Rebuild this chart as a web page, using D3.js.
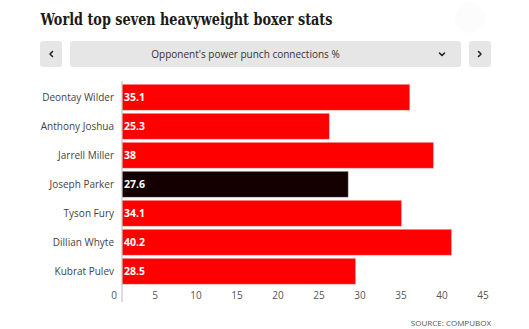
<!DOCTYPE html>
<html>
<head>
<meta charset="utf-8">
<script src="https://cdn.jsdelivr.net/npm/d3@7"></script>
<style>
  html, body { margin: 0; padding: 0; background: #fff; }
  svg { display: block; }
</style>
</head>
<body>
<svg id="chart" width="529" height="329"></svg>
<script>
// Boxer stats: opponent's power punch connections (%)
const boxers = ["Deontay Wilder", "Anthony Joshua", "Jarrell Miller", "Joseph Parker", "Tyson Fury", "Dillian Whyte", "Kubrat Pulev"];
const connections = [35.1, 25.3, 38, 27.6, 34.1, 40.2, 28.5];
const highlighted = ["Joseph Parker"];
const xTicks = [0, 5, 10, 15, 20, 25, 30, 35, 40, 45];

const title = "World top seven heavyweight boxer stats";
const metricLabel = "Opponent's power punch connections %";
const sourceNote = "SOURCE: COMPUBOX";

const rows = boxers.map((name, i) => ({ name, value: connections[i] }));

const svg = d3.select("#chart");

// Header
svg.append("circle").attr("cx", 470).attr("cy", 18).attr("r", 15).attr("fill", "#fcfcfc");

svg.append("text")
  .attr("x", 40.5).attr("y", 25)
  .attr("font-family", "'DejaVu Serif', serif")
  .attr("font-weight", "bold")
  .attr("font-size", 17)
  .attr("textLength", 292)
  .attr("lengthAdjust", "spacingAndGlyphs")
  .attr("fill", "#1a1a1a")
  .text(title);

// Selector controls
const ctrl = svg.append("g");
const btnFill = "#e6e6e6";
ctrl.append("rect").attr("x", 40).attr("y", 41).attr("width", 22).attr("height", 26).attr("rx", 3).attr("fill", btnFill);
ctrl.append("rect").attr("x", 70).attr("y", 41).attr("width", 391).attr("height", 26).attr("rx", 3).attr("fill", btnFill);
ctrl.append("rect").attr("x", 469).attr("y", 41).attr("width", 22).attr("height", 26).attr("rx", 3).attr("fill", btnFill);

const chevron = (pts) => ctrl.append("path")
  .attr("d", d3.line()(pts))
  .attr("fill", "none").attr("stroke", "#222").attr("stroke-width", 1.6)
  .attr("stroke-linecap", "round").attr("stroke-linejoin", "round");
chevron([[52.5, 51.5], [50, 54], [52.5, 56.5]]);
chevron([[478.5, 51.5], [481, 54], [478.5, 56.5]]);
chevron([[439.5, 53], [442, 55.5], [444.5, 53]]);

ctrl.append("text")
  .attr("x", 245.5).attr("y", 57.5)
  .attr("text-anchor", "middle")
  .attr("font-family", "'Open Sans', sans-serif")
  .attr("font-size", 10)
  .attr("fill", "#333")
  .text(metricLabel);

// Scales
const x = d3.scaleLinear().domain([0, 45]).range([122, 491]);
const y = d3.scaleBand().domain(boxers).range([82.8, 285.8]).paddingInner(0.1).paddingOuter(0.05);

// Bars
svg.append("g").selectAll("rect")
  .data(rows)
  .join("rect")
  .attr("x", x(0))
  .attr("y", d => y(d.name))
  .attr("width", d => x(d.value) - x(0))
  .attr("height", y.bandwidth())
  .attr("fill", d => highlighted.includes(d.name) ? "#140000" : "#ff0000")
  .attr("stroke", "rgba(255,255,255,0.45)")
  .attr("stroke-width", 1);

// Value labels inside bars
svg.append("g").selectAll("text")
  .data(rows)
  .join("text")
  .attr("x", x(0) + 2)
  .attr("y", d => y(d.name) + y.bandwidth() / 2)
  .attr("dy", "0.35em")
  .attr("font-family", "'Open Sans', sans-serif")
  .attr("font-weight", "bold")
  .attr("font-size", 10.5)
  .attr("fill", "#fff")
  .text(d => d.value);

// Category axis
const yAxis = svg.append("g")
  .attr("transform", `translate(${x(0)},0)`)
  .call(d3.axisLeft(y).tickSize(0).tickPadding(8));
yAxis.select(".domain").remove();
yAxis.selectAll("text")
  .attr("font-family", "'Open Sans', sans-serif")
  .attr("font-size", 10)
  .attr("fill", "#444");

// Baseline rule
svg.append("line")
  .attr("x1", x(0)).attr("x2", x(0))
  .attr("y1", 81).attr("y2", 302)
  .attr("stroke", "#bbb").attr("stroke-width", 1);

// Value axis
const xAxis = svg.append("g")
  .attr("transform", "translate(-8.5,292)")
  .call(d3.axisBottom(x).tickValues(xTicks).tickSize(0).tickPadding(0));
xAxis.select(".domain").remove();
xAxis.selectAll("text")
  .attr("font-family", "'Open Sans', sans-serif")
  .attr("font-size", 10)
  .attr("fill", "#555");

// Source
svg.append("text")
  .attr("x", 491).attr("y", 325.5)
  .attr("text-anchor", "end")
  .attr("font-family", "'Open Sans', sans-serif")
  .attr("font-size", 8)
  .attr("fill", "#555")
  .text(sourceNote);
</script>
</body>
</html>
